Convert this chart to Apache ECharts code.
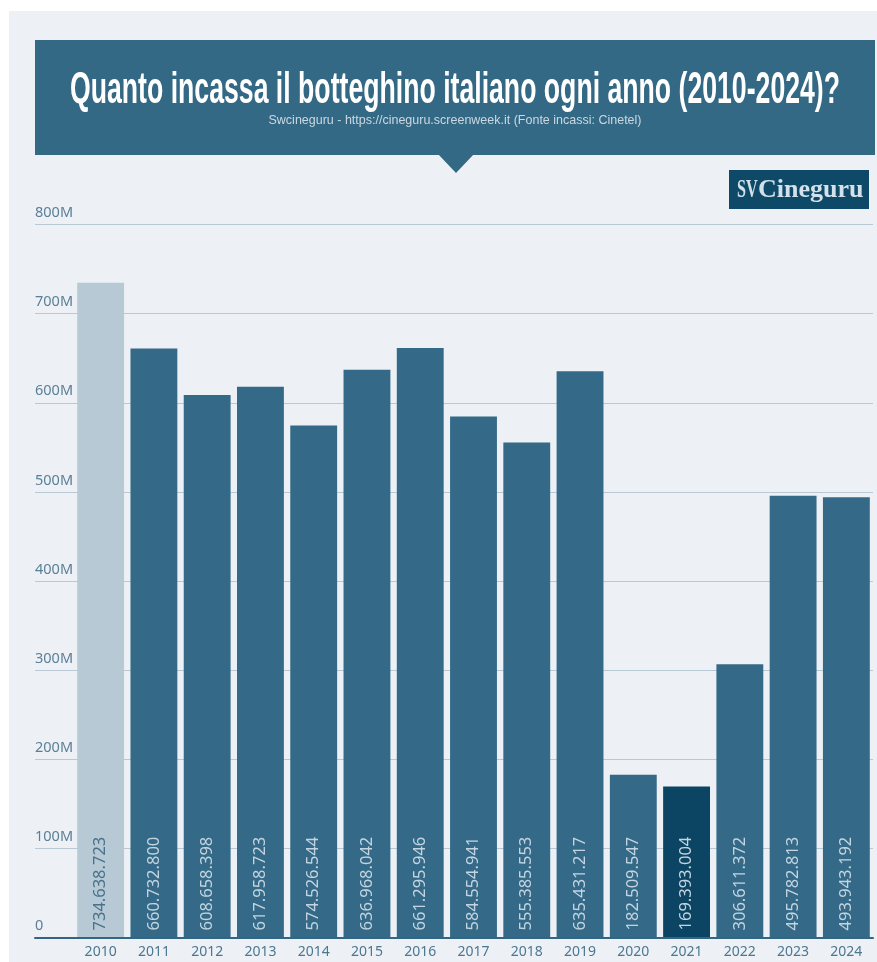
<!DOCTYPE html>
<html>
<head>
<meta charset="utf-8">
<title>Botteghino italiano 2010-2024</title>
<script src="https://cdn.jsdelivr.net/npm/echarts@6/dist/echarts.min.js"></script>
<style>
  html, body { margin: 0; padding: 0; background: #ffffff; }
  #card { position: absolute; left: 9px; top: 11px; right: 0; bottom: 0; background: #edf1f5; }
  #chart { position: absolute; left: 0; top: 0; width: 877px; height: 962px; }
</style>
</head>
<body>
<div id="card"></div>
<div id="chart"></div>
<script>
// Incassi annui del botteghino italiano (euro), fonte Cinetel
const years = ['2010', '2011', '2012', '2013', '2014', '2015', '2016', '2017',
               '2018', '2019', '2020', '2021', '2022', '2023', '2024'];
const incassi = [734638723, 660732800, 608658398, 617958723, 574526544,
                 636968042, 661295946, 584554941, 555385553, 635431217,
                 182509547, 169393004, 306611372, 495782813, 493943192];
// Scala dell'asse verticale
const yMin = 0;
const yMax = 800000000;
const yStep = 100000000;

const titleText = 'Quanto incassa il botteghino italiano ogni anno (2010-2024)?';
const subtitleText = 'Swcineguru - https://cineguru.screenweek.it (Fonte incassi: Cinetel)';

// Colori
const C = {
  bar: '#346a87',
  barFirst: '#b7c9d5',
  barLow: '#0b4563',
  banner: '#336985',
  grid: '#b8c9d5',
  axis: '#336682',
  tickText: '#5a7f97',
  yearText: '#4b7791',
  valueText: '#c3d4e0',
  valueTextDark: '#47728c',
  logo: '#0f4968',
  logoText: '#d2e1ea'
};

// Numero con separatore delle migliaia all'italiana
function itNumber(v) {
  return String(v).replace(/\B(?=(\d{3})+(?!\d))/g, '.');
}

// Larghezza di un testo per comprimere orizzontalmente i titoli
const measureCtx = document.createElement('canvas').getContext('2d');
function textWidth(str, font) {
  measureCtx.font = font;
  return measureCtx.measureText(str).width;
}

const titleFont = 'bold 44px "Liberation Sans", Arial, sans-serif';
const titleScale = 770 / textWidth(titleText, titleFont);
const subFont = '13.5px "Liberation Sans", Arial, sans-serif';
const subScale = 373 / textWidth(subtitleText, subFont);

const barData = incassi.map(function (v, i) {
  const first = i === 0;
  const low = years[i] === '2021';
  return {
    value: v,
    itemStyle: { color: first ? C.barFirst : (low ? C.barLow : C.bar) },
    label: { color: first ? C.valueTextDark : C.valueText }
  };
});

const chart = echarts.init(document.getElementById('chart'), null, { renderer: 'canvas' });

chart.setOption({
  backgroundColor: 'transparent',
  animation: false,
  graphic: [
    // Intestazione
    {
      type: 'rect', z: 0,
      shape: { x: 35, y: 40, width: 840, height: 115 },
      style: { fill: C.banner }
    },
    {
      type: 'polygon', z: 0,
      shape: { points: [[438, 154], [474, 154], [456, 173]] },
      style: { fill: C.banner }
    },
    {
      type: 'text', z: 1,
      x: 455, y: 91, scaleX: titleScale, scaleY: 1,
      style: {
        text: titleText, font: titleFont, fill: '#ffffff',
        textAlign: 'center', textVerticalAlign: 'middle'
      }
    },
    {
      type: 'text', z: 1,
      x: 455, y: 120, scaleX: subScale, scaleY: 1,
      style: {
        text: subtitleText, font: subFont, fill: '#cbd8e2',
        textAlign: 'center', textVerticalAlign: 'middle'
      }
    },
    // Marchio
    {
      type: 'rect', z: 0,
      shape: { x: 729, y: 170, width: 140, height: 39 },
      style: { fill: C.logo }
    },
    {
      type: 'text', z: 1,
      x: 737, y: 190, scaleX: 0.62, scaleY: 1,
      style: {
        text: 'SV', font: 'bold 26px "Liberation Serif", serif', fill: C.logoText,
        textAlign: 'left', textVerticalAlign: 'middle'
      }
    },
    {
      type: 'text', z: 1,
      x: 758, y: 190,
      style: {
        text: 'Cineguru', font: 'bold 26px "Liberation Serif", serif', fill: C.logoText,
        textAlign: 'left', textVerticalAlign: 'middle'
      }
    }
  ],
  grid: [
    // Griglia con linee orizzontali ed etichette dell'asse Y
    { left: 35, right: 4, top: 224.5, bottom: 24.5 },
    // Griglia delle barre
    { left: 74, right: 4, top: 224.5, bottom: 24.5 }
  ],
  xAxis: [
    {
      gridIndex: 0, type: 'value', min: 0, max: 1, z: 5,
      axisLine: { show: true, lineStyle: { color: C.axis, width: 2 } },
      axisTick: { show: false }, axisLabel: { show: false }, splitLine: { show: false }
    },
    {
      gridIndex: 1, type: 'category', data: years,
      axisLine: { show: false }, axisTick: { show: false },
      axisLabel: {
        color: C.yearText, fontSize: 14, fontFamily: '"Noto Sans", sans-serif', margin: 8
      }
    }
  ],
  yAxis: [
    {
      gridIndex: 0, type: 'value', min: yMin, max: yMax, interval: yStep,
      axisLine: { show: false }, axisTick: { show: false },
      splitLine: { show: true, lineStyle: { color: C.grid, width: 1 } },
      axisLabel: {
        inside: true, margin: 0, align: 'left', verticalAlign: 'bottom',
        padding: [0, 0, 4, 0],
        color: C.tickText, fontSize: 14.5, fontFamily: '"Noto Sans", sans-serif',
        formatter: function (v) { return v === 0 ? '0' : (v / 1000000) + 'M'; }
      }
    },
    {
      gridIndex: 1, type: 'value', min: yMin, max: yMax, interval: yStep, show: false,
      splitLine: { show: false }
    }
  ],
  series: [
    {
      type: 'bar',
      xAxisIndex: 1, yAxisIndex: 1,
      data: barData,
      barCategoryGap: '12%',
      z: 3,
      label: {
        show: true,
        position: 'insideBottom',
        rotate: 90,
        align: 'left',
        verticalAlign: 'middle',
        distance: 7,
        fontSize: 16.5,
        fontFamily: '"Noto Sans", sans-serif',
        formatter: function (p) { return itNumber(p.value); }
      }
    }
  ]
});
</script>
</body>
</html>
